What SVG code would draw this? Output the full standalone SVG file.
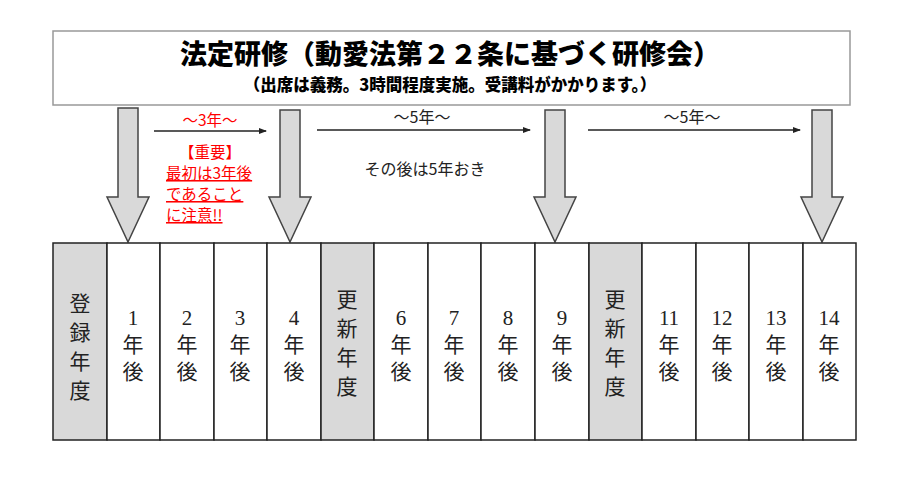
<svg xmlns="http://www.w3.org/2000/svg" width="900" height="502" viewBox="0 0 900 502">
<style>
.t{font-family:"Noto Sans CJK JP",sans-serif;text-anchor:middle}
.c{font-family:"Liberation Serif","Noto Sans CJK JP",serif;font-size:21px;text-anchor:middle;fill:#222}
.cell{stroke:#222;stroke-width:1.5;fill:#fff}
.g{fill:#d9d9d9}
.dn{fill:#d9d9d9;stroke:#444;stroke-width:1.5}
.r{fill:#ff0000;font-size:15.5px}
</style>
<defs><marker id="ah" markerWidth="8" markerHeight="8" refX="7" refY="4" orient="auto" markerUnits="userSpaceOnUse"><path d="M0,1 L8,4 L0,7z" fill="#222"/></marker></defs>
<rect width="900" height="502" fill="#fff"/>
<g id="title"><rect x="53" y="31" width="797" height="74" fill="#fff" stroke="#999" stroke-width="1.5"/>
<text class="t" x="450" y="64" font-size="27" font-weight="900">法定研修（動愛法第２２条に基づく研修会）</text>
<text class="t" x="450" y="91" font-size="16.5" font-weight="900">（出席は義務。3時間程度実施。受講料がかかります。）</text></g>
<g id="down-arrows">
<path class="dn" d="M118,108H138V197H149L128,242L107,197H118Z"/>
<path class="dn" d="M280,110H300V197H311L290,242L269,197H280Z"/>
<path class="dn" d="M545,110H565V197H576L555,242L534,197H545Z"/>
<path class="dn" d="M812,110H832V197H843L822,242L801,197H812Z"/>
</g>
<g id="connectors" stroke="#222" stroke-width="1.5" marker-end="url(#ah)">
<line x1="154" y1="131" x2="266" y2="131"/>
<line x1="317" y1="130" x2="530" y2="130"/>
<line x1="588" y1="130" x2="800" y2="130"/>
</g>
<g id="labels">
<text class="t r" x="210" y="126">〜3年〜</text>
<text class="t" x="422" y="123" font-size="16" fill="#222">〜5年〜</text>
<text class="t" x="692" y="123" font-size="16" fill="#222">〜5年〜</text>
<text class="t" x="425" y="175" font-size="16" fill="#222">その後は5年おき</text>
<text class="t r" x="210" y="158">【重要】</text>
<text class="t r" x="166" y="179" style="text-anchor:start" text-decoration="underline">最初は3年後</text>
<text class="t r" x="166" y="200" style="text-anchor:start" text-decoration="underline">であること</text>
<text class="t r" x="166" y="221" style="text-anchor:start" text-decoration="underline">に注意!!</text>
</g>
<g id="table">
<rect class="cell g" x="53" y="243" width="54" height="197"/>
<rect class="cell" x="107" y="243" width="53" height="197"/>
<rect class="cell" x="160" y="243" width="54" height="197"/>
<rect class="cell" x="214" y="243" width="53" height="197"/>
<rect class="cell" x="267" y="243" width="54" height="197"/>
<rect class="cell g" x="321" y="243" width="53" height="197"/>
<rect class="cell" x="374" y="243" width="54" height="197"/>
<rect class="cell" x="428" y="243" width="53" height="197"/>
<rect class="cell" x="481" y="243" width="54" height="197"/>
<rect class="cell" x="535" y="243" width="54" height="197"/>
<rect class="cell g" x="589" y="243" width="53" height="197"/>
<rect class="cell" x="642" y="243" width="54" height="197"/>
<rect class="cell" x="696" y="243" width="53" height="197"/>
<rect class="cell" x="749" y="243" width="54" height="197"/>
<rect class="cell" x="803" y="243" width="53" height="197"/>
</g>
<g id="cell-text" class="c">
<text x="80" y="311">登</text><text x="80" y="340">録</text><text x="80" y="369">年</text><text x="80" y="398">度</text>
<text x="347" y="307">更</text><text x="347" y="336">新</text><text x="347" y="365">年</text><text x="347" y="394">度</text>
<text x="615" y="307">更</text><text x="615" y="336">新</text><text x="615" y="365">年</text><text x="615" y="394">度</text>
<g><text x="133" y="325">1</text><text x="133" y="352">年</text><text x="133" y="379">後</text></g>
<g><text x="187" y="325">2</text><text x="187" y="352">年</text><text x="187" y="379">後</text></g>
<g><text x="240" y="325">3</text><text x="240" y="352">年</text><text x="240" y="379">後</text></g>
<g><text x="294" y="325">4</text><text x="294" y="352">年</text><text x="294" y="379">後</text></g>
<g><text x="401" y="325">6</text><text x="401" y="352">年</text><text x="401" y="379">後</text></g>
<g><text x="454" y="325">7</text><text x="454" y="352">年</text><text x="454" y="379">後</text></g>
<g><text x="508" y="325">8</text><text x="508" y="352">年</text><text x="508" y="379">後</text></g>
<g><text x="562" y="325">9</text><text x="562" y="352">年</text><text x="562" y="379">後</text></g>
<g><text x="669" y="325">11</text><text x="669" y="352">年</text><text x="669" y="379">後</text></g>
<g><text x="722" y="325">12</text><text x="722" y="352">年</text><text x="722" y="379">後</text></g>
<g><text x="776" y="325">13</text><text x="776" y="352">年</text><text x="776" y="379">後</text></g>
<g><text x="829" y="325">14</text><text x="829" y="352">年</text><text x="829" y="379">後</text></g>
</g>
</svg>
